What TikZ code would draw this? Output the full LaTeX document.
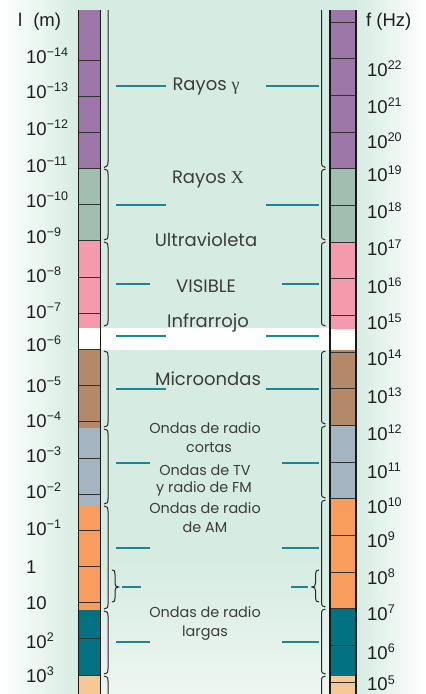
\documentclass[tikz,border=0pt]{standalone}
\usepackage{fontspec}
\setmainfont{Liberation Sans}
\newfontfamily\geofont{Poppins}
\newfontfamily\serfont{Liberation Serif}
\definecolor{bgmint}{RGB}{214,236,226}
\definecolor{bgbot}{RGB}{238,246,242}
\definecolor{cpurple}{RGB}{158,119,169}
\definecolor{cgreen}{RGB}{161,191,176}
\definecolor{cpink}{RGB}{245,154,173}
\definecolor{cbrown}{RGB}{180,137,106}
\definecolor{cgblue}{RGB}{164,181,193}
\definecolor{corange}{RGB}{249,157,93}
\definecolor{cteal}{RGB}{0,114,130}
\definecolor{cpeach}{RGB}{246,200,149}
\definecolor{tealln}{RGB}{30,133,147}
\definecolor{txtgrey}{RGB}{60,60,60}
\newcommand{\pw}[1]{10\raisebox{0.33em}{\fontsize{12.5}{12.5}\selectfont #1}}
\tikzset{
  numlbl/.style={anchor=base west, inner sep=0pt, font=\fontsize{18.5}{20}\selectfont, text=black!88},
  bigl/.style={anchor=base, inner sep=0pt, font=\geofont\fontsize{18}{20}\selectfont, text=txtgrey},
  smalll/.style={anchor=base, inner sep=0pt, font=\geofont\fontsize{14.4}{18}\selectfont, text=txtgrey},
  tealline/.style={draw=tealln, line width=1.4pt},
  tickln/.style={draw=black!80, line width=0.9pt},
  barout/.style={draw=black!90, line width=1.1pt},
  brc/.style={draw=black!85, line width=1pt},
}
\begin{document}
\begin{tikzpicture}[x=1pt,y=-1pt]
\useasboundingbox (0,0) rectangle (426,694);
% background
\fill[bgmint] (78,0) rectangle (356,694);
\shade[left color=white, right color=bgmint] (0,0) rectangle (78.5,694);
\shade[left color=bgmint, right color=white] (355.5,0) rectangle (426,694);
\begin{scope}[y=1pt]
\shade[top color=bgmint, bottom color=bgbot] (78,-694) rectangle (356,-560);
\end{scope}
% white band
\fill[white] (78,328) rectangle (356,350);
% left bar
\fill[cpurple] (78.5,10) rectangle (100.5,168.5);
\fill[cgreen] (78.5,168.5) rectangle (100.5,241);
\fill[cpink] (78.5,241) rectangle (100.5,328);
\fill[cbrown] (78.5,350) rectangle (100.5,428);
\fill[cgblue] (78.5,428) rectangle (100.5,505);
\fill[corange] (78.5,505) rectangle (100.5,610);
\fill[cteal] (78.5,610) rectangle (100.5,675);
\fill[cpeach] (78.5,675) rectangle (100.5,694);
\foreach \k in {0,...,17}{
  \draw[tickln] (78.5,{60+36.18*\k}) -- (100.5,{60+36.18*\k});
}
\draw[barout] (78.5,10) -- (78.5,694);
\draw[barout] (100.5,10) -- (100.5,694);
% right bar
\fill[cpurple] (330,10) rectangle (356,168.7);
\fill[cgreen] (330,168.7) rectangle (356,242);
\fill[cpink] (330,242) rectangle (356,329);
\fill[cbrown] (330,350) rectangle (356,425.3);
\fill[cgblue] (330,425.3) rectangle (356,498.7);
\fill[corange] (330,498.7) rectangle (356,608.7);
\fill[cteal] (330,608.7) rectangle (356,676);
\fill[cpeach] (330,676) rectangle (356,694);
\foreach \k in {0,...,18}{
  \draw[tickln] (330,{22+36.67*\k}) -- (356,{22+36.67*\k});
}
\draw[barout] (330,10) -- (330,694);
\draw[barout] (356,10) -- (356,694);
% left brackets
\draw[brc] (108,10) -- (108,162) .. controls (108,165.5) and (107,167) .. (104,167.5);
\foreach \a/\b in {169/240, 242/326, 351/427, 429/504, 506/609, 611/674}{
  \draw[brc] (104,\a) .. controls (107,\a) and (108,\a+1.5) .. (108,\a+5) -- (108,\b-5) .. controls (108,\b-1.5) and (107,\b) .. (104,\b);
}
\draw[brc] (104,676) .. controls (107,676) and (108,677.5) .. (108,681) -- (108,694);
\draw[brc] (112,570) .. controls (114.5,570) and (115,571) .. (115,574) -- (115,583) .. controls (115,586) and (116,587) .. (118.5,587) .. controls (116,587) and (115,588) .. (115,591) -- (115,598) .. controls (115,601) and (114.5,602) .. (112,602);
% right brackets
\draw[brc] (321.5,10) -- (321.5,162) .. controls (321.5,165.5) and (322.5,167) .. (325.5,167.5);
\foreach \a/\b in {169/240, 242/326, 351/424, 426/498, 500/607, 609/674}{
  \draw[brc] (325.5,\a) .. controls (322.5,\a) and (321.5,\a+1.5) .. (321.5,\a+5) -- (321.5,\b-5) .. controls (321.5,\b-1.5) and (322.5,\b) .. (325.5,\b);
}
\draw[brc] (325.5,676) .. controls (322.5,676) and (321.5,677.5) .. (321.5,681) -- (321.5,694);
\draw[brc] (319,570) .. controls (316.5,570) and (315.5,571) .. (315.5,574) -- (315.5,583) .. controls (315.5,586) and (314.5,587) .. (312,587) .. controls (314.5,587) and (315.5,588) .. (315.5,591) -- (315.5,598) .. controls (315.5,601) and (316.5,602) .. (319,602);
% teal lines
\foreach \xa/\xb/\yy in {116/166/86, 116/166/205, 116/150/284, 116/166/336, 116/166/389, 116/150/463, 116/150/548, 122/141/587, 116/150/642}{
  \draw[tealline] (\xa,\yy) -- (\xb,\yy);
}
\foreach \xa/\xb/\yy in {266/319/86, 266/319/205, 282/319/284, 266/319/336, 266/319/389, 282/319/463, 282/319/548, 291/308/587, 282/319/642}{
  \draw[tealline] (\xa,\yy) -- (\xb,\yy);
}
% axis titles
\node[numlbl] (lm) at (18,26) {l\hspace{11pt}(m)};
\node[numlbl] (fhz) at (366,26) {f (Hz)};
% left labels
\node[numlbl] (l14) at (26,63) {\pw{−14}};
\node[numlbl] (l13) at (26,98) {\pw{−13}};
\node[numlbl] (l12) at (26,135) {\pw{−12}};
\node[numlbl] (l11) at (26,172) {\pw{−11}};
\node[numlbl] (l10) at (26,207) {\pw{−10}};
\node[numlbl] (l9) at (26,243) {\pw{−9}};
\node[numlbl] (l8) at (26,282) {\pw{−8}};
\node[numlbl] (l7) at (26,318) {\pw{−7}};
\node[numlbl] (l6) at (26,351) {\pw{−6}};
\node[numlbl] (l5) at (26,392) {\pw{−5}};
\node[numlbl] (l4) at (26,427) {\pw{−4}};
\node[numlbl] (l3) at (26,462) {\pw{−3}};
\node[numlbl] (l2) at (26,498) {\pw{−2}};
\node[numlbl] (l1) at (26,535) {\pw{−1}};
\node[numlbl] (l0) at (26,573) {1};
\node[numlbl] (lp1) at (26,609) {10};
\node[numlbl] (lp2) at (26,648) {\pw{2}};
\node[numlbl] (lp3) at (26,682) {\pw{3}};
% right labels
\node[numlbl] (r22) at (367,76) {\pw{22}};
\node[numlbl] (r21) at (367,113) {\pw{21}};
\node[numlbl] (r20) at (367,148) {\pw{20}};
\node[numlbl] (r19) at (367,181) {\pw{19}};
\node[numlbl] (r18) at (367,218) {\pw{18}};
\node[numlbl] (r17) at (367,255) {\pw{17}};
\node[numlbl] (r16) at (367,293) {\pw{16}};
\node[numlbl] (r15) at (367,329) {\pw{15}};
\node[numlbl] (r14) at (367,365) {\pw{14}};
\node[numlbl] (r13) at (367,403) {\pw{13}};
\node[numlbl] (r12) at (367,440) {\pw{12}};
\node[numlbl] (r11) at (367,478) {\pw{11}};
\node[numlbl] (r10) at (367,513) {\pw{10}};
\node[numlbl] (r9) at (367,547) {\pw{9}};
\node[numlbl] (r8) at (367,584) {\pw{8}};
\node[numlbl] (r7) at (367,620) {\pw{7}};
\node[numlbl] (r6) at (367,659) {\pw{6}};
\node[numlbl] (r5) at (367,690.5) {\pw{5}};
% center labels
\node[bigl] (gam) at (206,90) {Rayos {\serfont γ}};
\node[bigl] (rx) at (208,183) {Rayos {\serfont X}};
\node[bigl] (uv) at (206,246) {Ultravioleta};
\node[bigl] (vis) at (206,292) {VISIBLE};
\node[bigl] (ir) at (208,327) {Infrarrojo};
\node[bigl] (mw) at (208,385) {Microondas};
\node[smalll] (oc1) at (205,433) {Ondas de radio};
\node[smalll] (oc2) at (209,452) {cortas};
\node[smalll] (tv1) at (205,475) {Ondas de TV};
\node[smalll] (tv2) at (204,492) {y radio de FM};
\node[smalll] (am1) at (205,513) {Ondas de radio};
\node[smalll] (am2) at (205,532) {de AM};
\node[smalll] (lg1) at (205,617) {Ondas de radio};
\node[smalll] (lg2) at (205,636) {largas};
\end{tikzpicture}
\end{document}
